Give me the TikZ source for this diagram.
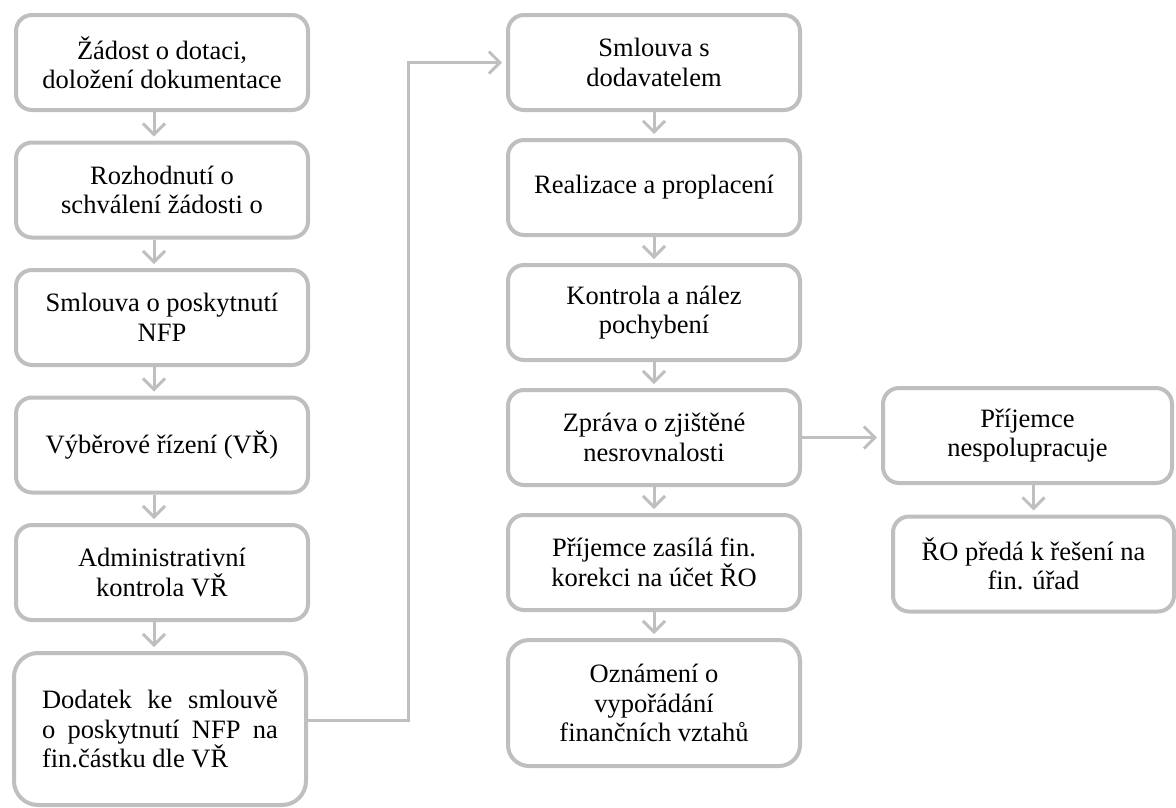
\documentclass[tikz,border=0pt]{standalone}
\usepackage{fontspec}
\setmainfont{Liberation Serif}
\usetikzlibrary{arrows.meta}
\definecolor{bord}{RGB}{191,191,191}
\tikzset{
  box/.style={draw=bord, line width=4pt, rounded corners=16pt, fill=white,
    minimum width=292pt, minimum height=95pt, align=center, inner sep=2pt,
    font=\fontsize{26.5}{29.5}\selectfont, text=black},
  arr/.style={draw=bord, line width=3pt, shorten >=4pt,
    -{Straight Barb[length=11pt,width=22pt,line width=3pt]}},
}
\begin{document}
\begin{tikzpicture}[x=1pt,y=-1pt]
\useasboundingbox (0,0) rectangle (1176,807);
% left column
\node[box] (l1) at (162,62.5) {Žádost o dotaci,\\doložení dokumentace};
\node[box] (l2) at (162,190) {Rozhodnutí o\\schválení žádosti o};
\node[box] (l3) at (162,317.5) {Smlouva o poskytnutí\\NFP};
\node[box] (l4) at (162,445) {Výběrové řízení (VŘ)};
\node[box] (l5) at (162,572.5) {Administrativní\\kontrola VŘ};
\node[box, minimum height=152pt, rounded corners=24pt, text width=236pt, align=justify] (l6) at (160,729) {Dodatek ke smlouvě o poskytnutí NFP na fin.částku dle VŘ};
% middle column
\node[box] (m1) at (654,62.5) {Smlouva s\\dodavatelem};
\node[box] (m2) at (654,187.5) {Realizace a proplacení};
\node[box] (m3) at (654,312.5) {Kontrola a nález\\pochybení};
\node[box] (m4) at (654,437.5) {Zpráva o zjištěné\\nesrovnalosti};
\node[box] (m5) at (654,562.5) {Příjemce zasílá fin.\\korekci na účet ŘO};
\node[box, minimum height=126pt, rounded corners=21pt] (m6) at (654,703) {Oznámení o\\vypořádání\\finančních vztahů};
% right column
\node[box, minimum width=289pt] (r1) at (1027.5,435.5) {Příjemce\\nespolupracuje};
\node[box, minimum width=281pt] (r2) at (1033.5,564) {ŘO předá k řešení na\\fin. úřad};
% connectors
\coordinate (lax) at (154,0);
\foreach \a/\b in {l1/l2,l2/l3,l3/l4,l4/l5,l5/l6}
  \draw[arr] (lax |- \a.south) -- (lax |- \b.north);
\foreach \a/\b in {m1/m2,m2/m3,m3/m4,m4/m5,m5/m6}
  \draw[arr] (\a.south) -- (\b.north);
\draw[arr] (r2.north |- r1.south) -- (r2.north);
\draw[arr] (m4.east) -- (m4.east -| r1.west);
\coordinate (bend) at (408,720);
\draw[arr] (l6.east |- bend) -- (bend) -- (bend |- m1.west) -- (m1.west);
\end{tikzpicture}
\end{document}
